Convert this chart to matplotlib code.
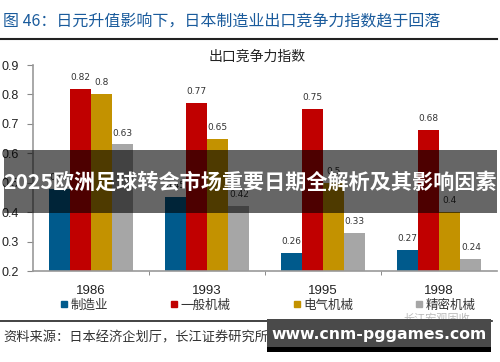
import matplotlib
matplotlib.use("Agg")
import matplotlib.pyplot as plt
import numpy as np
from matplotlib.patches import Rectangle
from matplotlib.lines import Line2D

plt.rcParams['font.family'] = ['Noto Sans CJK SC', 'DejaVu Sans']

years = ["1986", "1993", "1995", "1998"]
series_names = ["制造业", "一般机械", "电气机械", "精密机械"]
manufacturing = [0.48, 0.45, 0.26, 0.27]
general_machinery = [0.82, 0.77, 0.75, 0.68]
electrical_machinery = [0.80, 0.65, 0.50, 0.40]
precision_machinery = [0.63, 0.42, 0.33, 0.24]
yticks = [0.2, 0.3, 0.4, 0.5, 0.6, 0.7, 0.8, 0.9]

colors = ["#005a8c", "#c00000", "#c39200", "#a6a6a6"]
series = [manufacturing, general_machinery, electrical_machinery, precision_machinery]

W, H = 500, 362
fig = plt.figure(figsize=(5, 3.62), dpi=100)

def fx(px):
    return px / W

def fy(py):
    return 1 - py / H

ax = fig.add_axes([fx(33), fy(271), fx(497 - 33), (271 - 65) / H])

x = np.arange(len(years))
bw = 0.183
for i, (vals, c) in enumerate(zip(series, colors)):
    pos = x + (i - 1.5) * bw
    ax.bar(pos, vals, width=bw, color=c, zorder=2)
    for xp, v in zip(pos, vals):
        ax.annotate(f"{v:g}", (xp, v), xytext=(0, 5), textcoords="offset points",
                    ha="center", va="bottom", fontsize=6.5, color="#333333",
                    family="DejaVu Sans")

ax.set_ylim(0.2, 0.9)
ax.set_xlim(-0.5, len(years) - 0.5)
ax.set_yticks(yticks)
ax.set_yticklabels([f"{t:.1f}" for t in yticks], fontsize=9, color="#222222",
                   family="Liberation Sans")
ax.set_xticks(x)
ax.set_xticklabels(years, fontsize=9.5, color="#222222", family="Liberation Sans")
ax.tick_params(axis="x", length=0, pad=10)
ax.set_xticks(np.arange(0.5, len(years) - 0.5, 1), minor=True)
ax.tick_params(axis="x", which="minor", length=3, color="#777777")
ax.tick_params(axis="y", length=4, color="#888888", pad=6)
for s in ["top", "right"]:
    ax.spines[s].set_visible(False)
ax.spines["left"].set_color("#999999")
ax.spines["bottom"].set_color("#999999")
ax.spines["left"].set_linewidth(1.2)
ax.spines["bottom"].set_linewidth(1.2)

# chart titles
fig.text(fx(3), fy(22), "图 46：日元升值影响下，日本制造业出口竞争力指数趋于回落",
         fontsize=11.5, color="#1a5b9c", ha="left", va="center")
fig.add_artist(Line2D([0, fx(497)], [fy(39), fy(39)], color="#222222", lw=1.5,
                      transform=fig.transFigure))
fig.text(fx(257), fy(57), "出口竞争力指数", fontsize=10, color="#222222",
         ha="center", va="center")

# legend
handles = [Line2D([], [], marker="s", linestyle="none", markersize=5, color=c) for c in colors]
fig.legend(handles, series_names, loc="center", bbox_to_anchor=(fx(268), fy(305)),
           ncol=4, frameon=False, fontsize=9, columnspacing=5.0,
           handlelength=0.6, handletextpad=0.2, labelcolor="#333333")

# bottom line and source
fig.add_artist(Line2D([0, fx(492)], [fy(321), fy(321)], color="#222222", lw=1.2,
                      transform=fig.transFigure))
fig.text(fx(3), fy(338), "资料来源：日本经济企划厅，长江证券研究所", fontsize=9.5,
         color="#333333", ha="left", va="center")
fig.text(fx(470), fy(318), "长江宏观固收", fontsize=8, color="#bbbbbb",
         ha="right", va="center")

# overlay banner
fig.add_artist(Rectangle((fx(4), fy(213)), fx(493), (213 - 150) / H,
                         transform=fig.transFigure, facecolor="black", alpha=0.6,
                         edgecolor="none", zorder=10))
fig.text(fx(250), fy(182), "2025欧洲足球转会市场重要日期全解析及其影响因素",
         fontsize=15.2, fontweight="bold", color="white", ha="center", va="center",
         zorder=11)

# watermark box
fig.add_artist(Rectangle((fx(267), fy(352)), fx(224), (352 - 319) / H,
                         transform=fig.transFigure, facecolor="#4a4a4a",
                         edgecolor="none", zorder=10))
fig.add_artist(Rectangle((fx(267), fy(352)), fx(224), 5 / H,
                         transform=fig.transFigure, facecolor="black",
                         edgecolor="none", zorder=10))
fig.text(fx(379), fy(334), "www.cnm-pggames.com", fontsize=11.3, fontweight="bold",
         color="white", ha="center", va="center", zorder=11, family="DejaVu Sans")

fig.savefig("out.png", dpi=100)
